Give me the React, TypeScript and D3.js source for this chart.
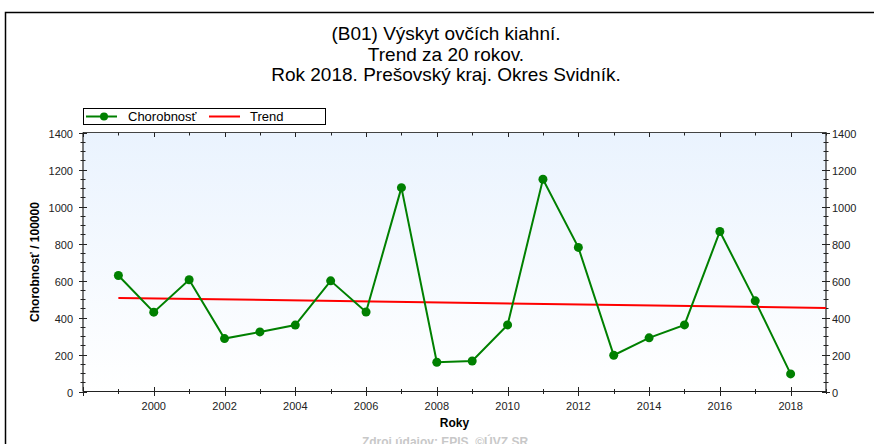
import React from "react";
import * as d3 from "d3";

const titleLines = [
  "(B01) Výskyt ovčích kiahní.",
  "Trend za 20 rokov.",
  "Rok 2018. Prešovský kraj. Okres Svidník.",
];
const years = [1999, 2000, 2001, 2002, 2003, 2004, 2005, 2006, 2007, 2008, 2009, 2010, 2011, 2012, 2013, 2014, 2015, 2016, 2017, 2018];
const values = [627, 429, 604, 286, 322, 359, 598, 430, 1102, 158, 165, 360, 1147, 779, 196, 290, 360, 865, 490, 95];
const trendYears = [1999, 2019];
const trendValues = [506, 452];
const yTicks = [0, 200, 400, 600, 800, 1000, 1200, 1400];
const xLabelYears = [2000, 2002, 2004, 2006, 2008, 2010, 2012, 2014, 2016, 2018];
const seriesName = "Chorobnosť";
const trendName = "Trend";
const yAxisTitle = "Chorobnosť / 100000";
const xAxisTitle = "Roky";
const sourceText = "Zdroj údajov: EPIS, ©ÚVZ SR";

const W = 874;
const H = 444;
const X0 = 83, X1 = 826, Y0 = 132.5, Y1 = 391.5;
const FONT = "'Liberation Sans', Arial, sans-serif";
const GREEN = "#008000";
const RED = "#ff0000";
const AXIS = "#222";

export default function App() {
  const x = d3.scaleLinear().domain([1998, 2019]).range([X0, X1]);
  const y = d3.scaleLinear().domain([0, 1400]).range([Y1, Y0]);
  const line = d3.line<number>().x((_, i) => x(years[i])).y((v) => y(v));
  const trendLine = d3.line<number>().x((_, i) => x(trendYears[i])).y((v) => y(v));
  const allYears = d3.range(1998, 2020);
  const minorY = d3.range(0, 1401, 50).filter((v) => v % 200 !== 0);
  const cx = (X0 + X1) / 2;
  const cy = (Y0 + Y1) / 2;

  return (
    <svg width={W} height={H} style={{ position: "absolute", left: 0, top: 0, background: "#fff" }} fontFamily={FONT}>
      <defs>
        <linearGradient id="bg" x1="0" y1="0" x2="0" y2="1">
          <stop offset="0" stopColor="#eaf3fe" />
          <stop offset="1" stopColor="#ffffff" />
        </linearGradient>
      </defs>
      <rect x={5.5} y={12.5} width={900} height={500} fill="#fff" stroke="#000" strokeWidth={1.5} />
      {titleLines.map((t, i) => (
        <text key={i} x={446} y={40 + i * 20.5} textAnchor="middle" fontSize={19} fill="#000">{t}</text>
      ))}
      {/* legend */}
      <rect x={83.5} y={108.5} width={242} height={16} fill="#fff" stroke="#000" strokeWidth={1} />
      <line x1={86} x2={117} y1={116.5} y2={116.5} stroke={GREEN} strokeWidth={2} />
      <circle cx={104} cy={116.5} r={4} fill={GREEN} />
      <text x={128} y={121} fontSize={13} fill="#000">{seriesName}</text>
      <line x1={209} x2={240} y1={116.5} y2={116.5} stroke={RED} strokeWidth={2} />
      <text x={250} y={121} fontSize={13} fill="#000">{trendName}</text>
      {/* plot */}
      <rect x={X0} y={Y0} width={X1 - X0} height={Y1 - Y0} fill="url(#bg)" />
      <line x1={X0} x2={X1} y1={Y0} y2={Y0} stroke="#444" strokeWidth={1} />
      <line x1={X0} x2={X1} y1={Y1} y2={Y1} stroke={AXIS} strokeWidth={1.2} />
      <line x1={X0} x2={X0} y1={Y0} y2={Y1} stroke={AXIS} strokeWidth={1.2} />
      <line x1={X1} x2={X1} y1={Y0} y2={Y1} stroke={AXIS} strokeWidth={1.2} />
      {/* x ticks */}
      {allYears.map((yr) => {
        const major = yr % 2 === 0;
        const px = Math.round(x(yr)) + 0.5;
        return (
          <g key={yr}>
            <line x1={px} x2={px} y1={Y1 - (major ? 4.5 : 2.5)} y2={Y1 + (major ? 4.5 : 2.5)} stroke={AXIS} strokeWidth={1} />
            <line x1={px} x2={px} y1={Y0} y2={Y0 + (major ? 4.5 : 3)} stroke={AXIS} strokeWidth={1} />
          </g>
        );
      })}
      {xLabelYears.map((yr) => (
        <text key={yr} x={x(yr)} y={410} textAnchor="middle" fontSize={11} fill="#222">{yr}</text>
      ))}
      {/* y ticks */}
      {yTicks.map((v) => {
        const py = Math.round(y(v)) + 0.5;
        return (
          <g key={v}>
            <line x1={X0 - 4} x2={X0 + 4} y1={py} y2={py} stroke={AXIS} strokeWidth={1} />
            <line x1={X1 - 4} x2={X1 + 4} y1={py} y2={py} stroke={AXIS} strokeWidth={1} />
            <text x={73} y={py + 4} textAnchor="end" fontSize={11} fill="#222">{v}</text>
            <text x={832} y={py + 4} textAnchor="start" fontSize={11} fill="#222">{v}</text>
          </g>
        );
      })}
      {minorY.map((v) => {
        const py = Math.round(y(v)) + 0.5;
        return (
          <g key={v}>
            <line x1={X0 - 2.5} x2={X0 + 2.5} y1={py} y2={py} stroke={AXIS} strokeWidth={1} />
            <line x1={X1 - 2.5} x2={X1 + 2.5} y1={py} y2={py} stroke={AXIS} strokeWidth={1} />
          </g>
        );
      })}
      {/* series */}
      <path d={trendLine(trendValues) || ""} fill="none" stroke={RED} strokeWidth={2} />
      <path d={line(values) || ""} fill="none" stroke={GREEN} strokeWidth={2} />
      {values.map((v, i) => (
        <circle key={i} cx={x(years[i])} cy={y(v)} r={4.5} fill={GREEN} />
      ))}
      {/* axis titles */}
      <text transform={`translate(39,${cy}) rotate(-90)`} textAnchor="middle" fontSize={12} fontWeight="bold" fill="#000">{yAxisTitle}</text>
      <text x={cx} y={427} textAnchor="middle" fontSize={12} fontWeight="bold" fill="#000">{xAxisTitle}</text>
      <text x={445} y={446} textAnchor="middle" fontSize={12} fontWeight="bold" fill="#c8c8c8">{sourceText}</text>
    </svg>
  );
}
